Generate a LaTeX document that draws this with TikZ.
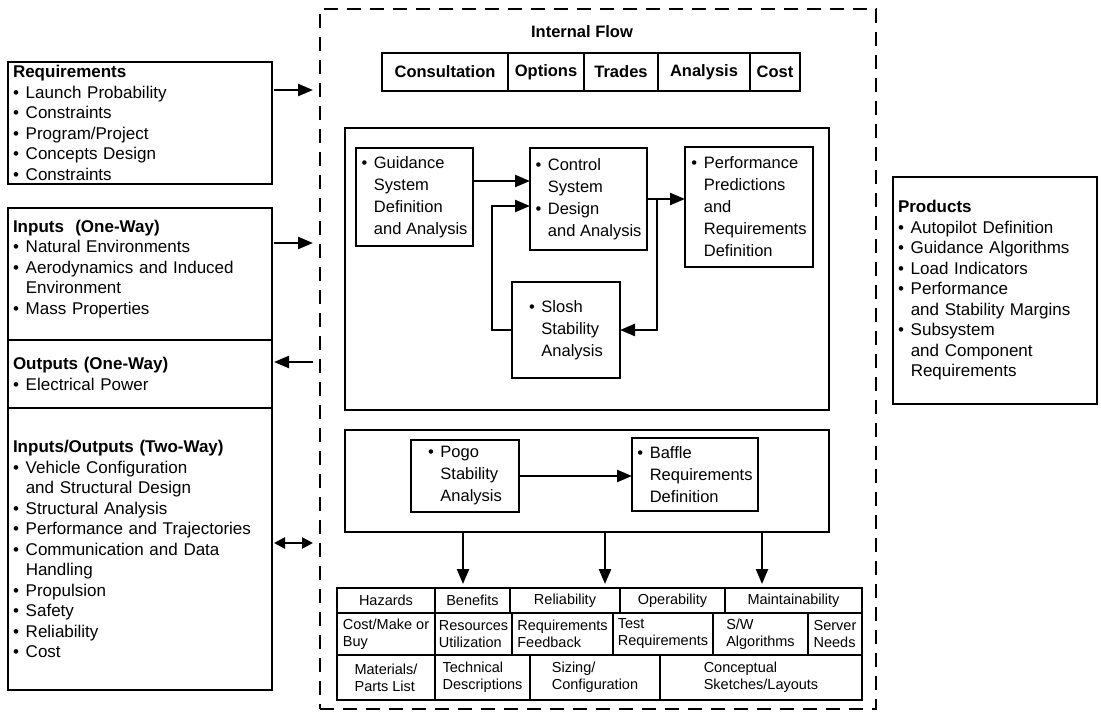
\documentclass[tikz,border=0pt]{standalone}
\usepackage{fontspec}
\setmainfont{Liberation Sans}
\usetikzlibrary{arrows.meta,positioning}
\newcommand{\itm}{\makebox[0.75em][l]{•}}
\newcommand{\cnt}{\hspace*{0.75em}}
\newcommand{\dpt}[1]{\rule[-#1]{0pt}{#1}}
\tikzset{
  box/.style={draw, line width=2.6pt, anchor=north west, inner xsep=5pt, inner ysep=2pt, outer sep=0pt, align=left},
  listbox/.style={box, font=\fontsize{17}{20.5}\selectfont},
  sbox/.style={box, inner xsep=3pt, font=\fontsize{16.5}{22}\selectfont},
  hcell/.style={draw, line width=2.4pt, anchor=north west, inner sep=1pt, outer sep=0pt, minimum height=38pt, font=\bfseries\fontsize{16.5}{20}\selectfont},
  cell/.style={draw, line width=1.8pt, anchor=north west, inner sep=1pt, outer sep=0pt, align=left, font=\fontsize{14.5}{17}\selectfont},
  arr/.style={line width=2.4pt, -{Triangle[length=15pt,width=12pt]}},
  twoarr/.style={line width=2.4pt, {Triangle[length=11pt,width=11pt]}-{Triangle[length=11pt,width=11pt]}},
}

\begin{document}
\begin{tikzpicture}[x=1pt,y=-1pt]
  \useasboundingbox (0,0) rectangle (1101,719);
  % internal flow frame
  \node[draw, line width=2.6pt, dash pattern=on 14pt off 9pt, anchor=north west, inner sep=0pt, outer sep=0pt, minimum width=556pt, minimum height=700pt] (flow) at (320,9) {};
  \node[font=\bfseries\fontsize{16.5}{20}\selectfont] (iflow) at (582,32) {Internal Flow};

  % left column
  \node[listbox, text width=254pt, minimum height=122pt] (req) at (8,62) {\textbf{Requirements}\\
    \itm Launch Probability\\ \itm Constraints\\ \itm Program/Project\\ \itm Concepts Design\\ \itm Constraints};
  \node[listbox, text width=254pt, minimum height=132pt] (ins) at (8,208) {\textbf{Inputs\ \ (One-Way)}\\
    \itm Natural Environments\\ \itm Aerodynamics and Induced\\ \cnt Environment\\ \itm Mass Properties\dpt{14pt}};
  \node[listbox, text width=254pt, minimum height=68pt] (outs) at (8,340) {\textbf{Outputs (One-Way)}\\
    \itm Electrical Power};
  \node[listbox, text width=254pt, minimum height=282pt] (io) at (8,408) {\textbf{Inputs/Outputs (Two-Way)}\\
    \itm Vehicle Configuration\\ \cnt and Structural Design\\ \itm Structural Analysis\\
    \itm Performance and Trajectories\\ \itm Communication and Data\\ \cnt Handling\\
    \itm Propulsion\\ \itm Safety\\ \itm Reliability\\ \itm Cost};

  % products
  \node[listbox, text width=194pt, minimum height=227pt] (prod) at (893,177) {\textbf{Products}\\
    \itm Autopilot Definition\\ \itm Guidance Algorithms\\ \itm Load Indicators\\
    \itm Performance\\ \cnt and Stability Margins\\ \itm Subsystem\\ \cnt and Component\\ \cnt Requirements};

  % left arrows
  \coordinate (reqa) at ([yshift=33pt]req.east);
  \coordinate (insa) at ([yshift=31pt]ins.east);
  \coordinate (outsa) at ([yshift=12pt]outs.east);
  \coordinate (ioa) at ([yshift=6pt]io.east);
  \draw[arr, shorten <=2pt, shorten >=7pt] (reqa) -- (reqa -| flow.west);
  \draw[arr, shorten <=2pt, shorten >=7pt] (insa) -- (insa -| flow.west);
  \draw[arr, shorten <=7pt, shorten >=2pt] (outsa -| flow.west) -- (outsa);
  \draw[twoarr, shorten <=2pt, shorten >=7pt] (ioa) -- (ioa -| flow.west);

  % top row
  \node[hcell, minimum width=126pt] (cons) at (382,53) {Consultation};
  \node[hcell, minimum width=76pt, right=0pt of cons] (opts) {Options};
  \node[hcell, minimum width=74pt, right=0pt of opts] (trd) {Trades};
  \node[hcell, minimum width=92pt, right=0pt of trd] (anl) {Analysis};
  \node[hcell, minimum width=50pt, right=0pt of anl] (cst) {Cost};

  % system box
  \node[box, minimum width=484pt, minimum height=282pt] (sys) at (345,128) {};
  \node[sbox, minimum width=117pt, minimum height=98pt] (guid) at (356,148) {\itm Guidance\\ \cnt System\\ \cnt Definition\\ \cnt and Analysis};
  \node[sbox, minimum width=117pt, minimum height=102pt] (ctrl) at (530,148) {\itm Control\\ \cnt System\\ \itm Design\\ \cnt and Analysis};
  \node[sbox, minimum width=128pt, minimum height=120pt] (perf) at (685,147) {\itm Performance\\ \cnt Predictions\\ \cnt and\\ \cnt Requirements\\ \cnt Definition};
  \node[sbox, minimum width=108pt, minimum height=96pt] (slosh) at (512,282) {\itm Slosh\\ \cnt Stability\\ \cnt Analysis};

  \coordinate (ga) at ([yshift=16pt]guid.east);
  \draw[arr] (ga) -- (ga -| ctrl.west);
  \draw[arr] (ctrl.east) -- (ctrl.east -| perf.west);
  \coordinate (br) at ([xshift=10pt]ctrl.east);
  \draw[arr] (br) |- (slosh.east);
  \coordinate (lp) at ([xshift=-20pt]slosh.west);
  \draw[arr] (slosh.west) -- (lp) |- ([yshift=-7pt]ctrl.west);

  % pogo box
  \node[box, minimum width=484pt, minimum height=102pt] (grp) at (345,430) {};
  \node[sbox, minimum width=108pt, minimum height=72pt] (pogo) at (411,440) {\itm Pogo\\ \cnt Stability\\ \cnt Analysis};
  \node[sbox, minimum width=126pt, minimum height=73pt] (baf) at (632,438) {\itm Baffle\\ \cnt Requirements\\ \cnt Definition};
  \draw[arr] (pogo.east) -- (pogo.east -| baf.west);

  % table
  \node[cell, minimum width=98pt, minimum height=25pt] (haz) at (337,588) {Hazards};
  \node[cell, minimum width=75pt, minimum height=25pt] (ben) at (435,588) {Benefits};
  \node[cell, minimum width=110pt, minimum height=25pt] (rel) at (510,588) {Reliability};
  \node[cell, minimum width=105pt, minimum height=25pt] (ope) at (620,588) {Operability};
  \node[cell, minimum width=137pt, minimum height=25pt] (mai) at (725,588) {Maintainability};
  \node[cell, minimum width=98pt, minimum height=42pt] (cmb) at (337,613) {Cost/Make or\\Buy};
  \node[cell, minimum width=77pt, minimum height=42pt] (res) at (435,613) {Resources\\Utilization};
  \node[cell, minimum width=101pt, minimum height=42pt] (rqf) at (512,613) {Requirements\\Feedback};
  \node[cell, minimum width=100pt, minimum height=42pt] (tst) at (613,613) {Test\\Requirements};
  \node[cell, minimum width=95pt, minimum height=42pt] (sw) at (713,613) {S/W\\Algorithms};
  \node[cell, minimum width=54pt, minimum height=42pt] (srv) at (808,613) {Server\\Needs};
  \node[cell, minimum width=98pt, minimum height=45pt] (mat) at (337,655) {Materials/\\Parts List};
  \node[cell, minimum width=95pt, minimum height=45pt] (tec) at (435,655) {Technical\\Descriptions};
  \node[cell, minimum width=130pt, minimum height=45pt] (siz) at (530,655) {Sizing/\\Configuration};
  \node[cell, minimum width=202pt, minimum height=45pt] (cnc) at (660,655) {Conceptual\\Sketches/Layouts};

  \coordinate (d1) at ([xshift=-124pt]grp.south);
  \coordinate (d2) at ([xshift=18pt]grp.south);
  \coordinate (d3) at ([xshift=175pt]grp.south);
  \draw[arr, shorten >=4pt] (d1) -- (d1 |- haz.north);
  \draw[arr, shorten >=4pt] (d2) -- (d2 |- haz.north);
  \draw[arr, shorten >=4pt] (d3) -- (d3 |- haz.north);
\end{tikzpicture}
\end{document}
